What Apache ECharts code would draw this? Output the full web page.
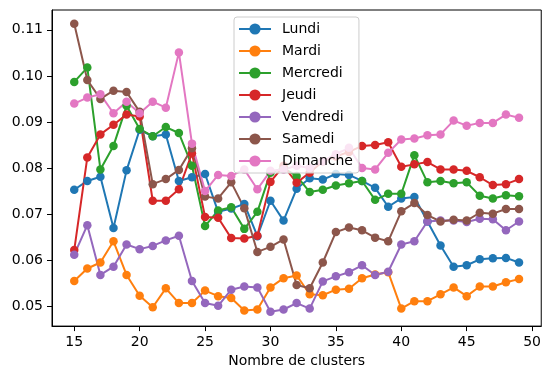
<!DOCTYPE html>
<html>
<head>
<meta charset="utf-8">
<script src="https://cdn.jsdelivr.net/npm/echarts@6/dist/echarts.min.js"></script>
<style>html,body{margin:0;padding:0;background:#fff}#c{width:544px;height:373px}</style>
</head>
<body>
<div id="c"></div>
<script>
const clusters = [15,16,17,18,19,20,21,22,23,24,25,26,27,28,29,30,31,32,33,34,35,36,37,38,39,40,41,42,43,44,45,46,47,48,49];
const lundi = [0.0753,0.0772,0.0781,0.0670,0.0795,0.0883,0.0869,0.0873,0.0772,0.0780,0.0787,0.0705,0.0712,0.0722,0.0652,0.0729,0.0686,0.0755,0.0778,0.0775,0.0787,0.0785,0.0772,0.0757,0.0716,0.0734,0.0737,0.0684,0.0632,0.0586,0.0589,0.0602,0.0604,0.0605,0.0595];
const mardi = [0.0555,0.0582,0.0595,0.0641,0.0568,0.0523,0.0498,0.0539,0.0507,0.0507,0.0534,0.0522,0.0518,0.0491,0.0493,0.0541,0.0561,0.0567,0.0526,0.0524,0.0536,0.0538,0.0561,0.0569,0.0574,0.0495,0.0511,0.0511,0.0526,0.0541,0.0522,0.0543,0.0543,0.0552,0.0559];
const mercredi = [0.0987,0.1018,0.0797,0.0848,0.0935,0.0885,0.0869,0.0889,0.0876,0.0805,0.0674,0.0708,0.0715,0.0668,0.0705,0.0790,0.0800,0.0783,0.0748,0.0753,0.0762,0.0767,0.0772,0.0731,0.0744,0.0744,0.0828,0.0769,0.0772,0.0767,0.0769,0.0740,0.0734,0.0741,0.0739];
const jeudi = [0.0622,0.0823,0.0873,0.0894,0.0916,0.0912,0.0729,0.0729,0.0754,0.0832,0.0694,0.0692,0.0648,0.0647,0.0653,0.0770,0.0805,0.0768,0.0790,0.0815,0.0825,0.0835,0.0848,0.0850,0.0856,0.0803,0.0808,0.0813,0.0797,0.0797,0.0794,0.0780,0.0763,0.0765,0.0776];
const vendredi = [0.0612,0.0676,0.0568,0.0586,0.0634,0.0624,0.0631,0.0643,0.0653,0.0555,0.0507,0.0501,0.0536,0.0543,0.0541,0.0488,0.0493,0.0507,0.0495,0.0554,0.0565,0.0574,0.0589,0.0568,0.0575,0.0634,0.0641,0.0684,0.0686,0.0686,0.0683,0.0690,0.0689,0.0665,0.0684];
const samedi = [0.1113,0.0991,0.0950,0.0968,0.0965,0.0922,0.0765,0.0776,0.0796,0.0843,0.0738,0.0734,0.0769,0.0713,0.0618,0.0629,0.0645,0.0546,0.0539,0.0595,0.0661,0.0671,0.0665,0.0649,0.0641,0.0706,0.0724,0.0698,0.0684,0.0688,0.0686,0.0703,0.0701,0.0711,0.0711];
const dimanche = [0.0940,0.0953,0.0960,0.0919,0.0944,0.0919,0.0944,0.0931,0.1051,0.0853,0.0750,0.0785,0.0783,0.0797,0.0754,0.0794,0.0797,0.0805,0.0800,0.0815,0.0830,0.0844,0.0800,0.0797,0.0833,0.0862,0.0864,0.0871,0.0873,0.0903,0.0892,0.0898,0.0898,0.0916,0.0909];
const seriesNames = ['Lundi','Mardi','Mercredi','Jeudi','Vendredi','Samedi','Dimanche'];
const seriesValues = [lundi, mardi, mercredi, jeudi, vendredi, samedi, dimanche];
const colors = ['#1f77b4','#ff7f0e','#2ca02c','#d62728','#9467bd','#8c564b','#e377c2'];
const xTicks = [15,20,25,30,35,40,45,50];
const yTicks = [0.05,0.06,0.07,0.08,0.09,0.10,0.11];
const xLabel = 'Nombre de clusters';

const FONT = 'DejaVu Sans';
const chart = echarts.init(document.getElementById('c'), null, {renderer: 'canvas'});
const axisCommon = {
  axisLine: {show: true, onZero: false, lineStyle: {color: '#000', width: 1}},
  splitLine: {show: false}
};
chart.setOption({
  animation: false,
  backgroundColor: '#fff',
  color: colors,
  grid: {left: 52, right: 1, top: 10, bottom: 45, show: true, borderColor: '#000', borderWidth: 1, containLabel: false},
  xAxis: Object.assign({}, axisCommon, {
    type: 'value', min: 13.3, max: 50.7,
    name: xLabel, nameLocation: 'middle', nameGap: 27,
    nameTextStyle: {fontFamily: FONT, fontSize: 14, color: '#000'},
    axisLabel: {customValues: xTicks, fontFamily: FONT, fontSize: 14, color: '#000', margin: 9},
    axisTick: {show: true, customValues: xTicks, length: 5, lineStyle: {color: '#000'}}
  }),
  yAxis: Object.assign({}, axisCommon, {
    type: 'value', min: 0.0457, max: 0.1143,
    axisLabel: {customValues: yTicks, fontFamily: FONT, fontSize: 14, color: '#000', margin: 9,
      formatter: v => v.toFixed(2)},
    axisTick: {show: true, customValues: yTicks, length: 5, lineStyle: {color: '#000'}}
  }),
  legend: {
    orient: 'vertical', left: 234, top: 17,
    padding: [5, 6, 5, 4], itemGap: 8, itemWidth: 32, itemHeight: 14,
    backgroundColor: 'rgba(255,255,255,0.8)', borderColor: '#cccccc', borderWidth: 1, borderRadius: 3,
    textStyle: {fontFamily: FONT, fontSize: 14, color: '#000', padding: [0,0,0,6], width: 81},
    data: seriesNames
  },
  series: seriesNames.map((n, i) => ({
    name: n, type: 'line',
    data: clusters.map((c, j) => [c, seriesValues[i][j]]),
    symbol: 'circle', symbolSize: 8.5, showSymbol: true,
    lineStyle: {width: 2, color: colors[i]},
    itemStyle: {color: colors[i]},
    emphasis: {disabled: true}
  }))
});
</script>
</body>
</html>
